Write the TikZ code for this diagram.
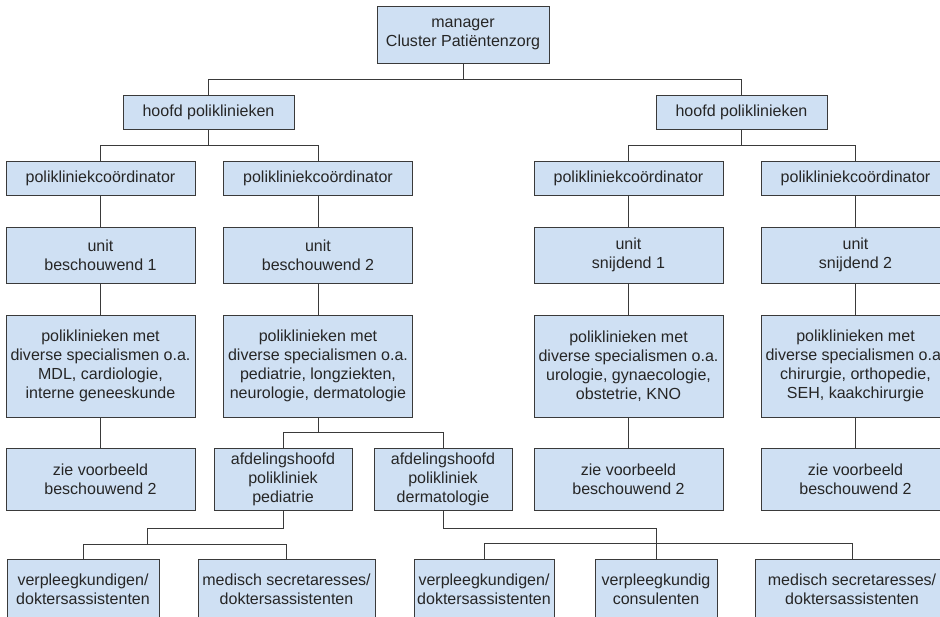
\documentclass[tikz,border=0pt]{standalone}
\usepackage{fontspec}
\setmainfont{Liberation Sans}
\definecolor{boxblue}{RGB}{207,224,243}
\definecolor{linegray}{RGB}{58,58,58}
\definecolor{textgray}{RGB}{38,38,38}

\begin{document}
\begin{tikzpicture}[
    box/.style={draw=linegray, fill=boxblue, line width=0.7pt, inner sep=0pt, align=center,
        text=textgray, font=\fontsize{11.4}{13.5}\selectfont, minimum height=0.85cm},
    colbox/.style={box, minimum width=4.725cm},
    link/.style={draw=linegray, line width=0.7pt}
]
    \clip (0,0) rectangle (23.5,-15.4);
    \node[box, minimum width=4.3cm, minimum height=1.425cm] (mgr) at (11.575,-0.8625) {manager\\Cluster Patiëntenzorg};
    \node[box, minimum width=4.275cm] (hfdL) at (5.2125,-2.8) {hoofd poliklinieken};
    \node[box, minimum width=4.275cm] (hfdR) at (18.5375,-2.8) {hoofd poliklinieken};
    %% coordinatoren
    \node[colbox] (crdA) at (2.5125,-4.45) {polikliniekcoördinator};
    \node[colbox] (crdB) at (7.95,-4.45) {polikliniekcoördinator};
    \node[colbox] (crdC) at (15.7125,-4.45) {polikliniekcoördinator};
    \node[colbox] (crdD) at (21.3875,-4.45) {polikliniekcoördinator};
    %% units
    \node[colbox, minimum height=1.4cm] (untA) at (2.5125,-6.375) {unit\\beschouwend 1};
    \node[colbox, minimum height=1.4cm] (untB) at (7.95,-6.375) {unit\\beschouwend 2};
    \node[colbox, minimum height=1.4cm] (untC) at (15.7125,-6.375) {unit\\snijdend 1};
    \node[colbox, minimum height=1.4cm] (untD) at (21.3875,-6.375) {unit\\snijdend 2};
    \node[colbox, minimum height=2.55cm] (polA) at (2.5125,-9.15) {poliklinieken met\\diverse specialismen o.a.\\MDL, cardiologie,\\interne geneeskunde};
    \node[colbox, minimum height=2.55cm] (polB) at (7.95,-9.15) {poliklinieken met\\diverse specialismen o.a.\\pediatrie, longziekten,\\neurologie, dermatologie};
    \node[colbox, minimum height=2.55cm] (polC) at (15.7125,-9.15) {poliklinieken met\\diverse specialismen o.a.\\urologie, gynaecologie,\\obstetrie, KNO};
    \node[colbox, minimum height=2.55cm] (polD) at (21.3875,-9.15) {poliklinieken met\\diverse specialismen o.a.\\chirurgie, orthopedie,\\SEH, kaakchirurgie};
    \node[colbox, minimum height=1.55cm] (zieA) at (2.5125,-11.975) {zie voorbeeld\\beschouwend 2};
    \node[colbox, minimum height=1.55cm] (zieC) at (15.7125,-11.975) {zie voorbeeld\\beschouwend 2};
    \node[colbox, minimum height=1.55cm] (zieD) at (21.3875,-11.975) {zie voorbeeld\\beschouwend 2};
    \node[box, minimum width=3.45cm, minimum height=1.55cm] (afdP) at (7.075,-11.975) {afdelingshoofd\\polikliniek\\pediatrie};
    \node[box, minimum width=3.45cm, minimum height=1.55cm] (afdD) at (11.075,-11.975) {afdelingshoofd\\polikliniek\\dermatologie};
    %% medewerkers
    \node[box, minimum width=3.8cm, minimum height=1.5cm] (vpkA) at (2.075,-14.725) {verpleegkundigen/\\doktersassistenten};
    \node[box, minimum width=4.425cm, minimum height=1.5cm] (secA) at (7.1625,-14.725) {medisch secretaresses/\\doktersassistenten};
    \node[box, minimum width=3.5cm, minimum height=1.5cm] (vpkB) at (12.1,-14.725) {verpleegkundigen/\\doktersassistenten};
    \node[box, minimum width=3.05cm, minimum height=1.5cm] (vkcB) at (16.4,-14.725) {verpleegkundig\\consulenten};
    \node[box, minimum width=4.85cm, minimum height=1.5cm] (secB) at (21.3,-14.725) {medisch secretaresses/\\doktersassistenten};
    \coordinate (pedbus) at (3.675,-13.6);

    \draw[link] (mgr.south) -- ++(0,-0.4) -| (hfdL.north);
    \draw[link] (mgr.south) -- ++(0,-0.4) -| (hfdR.north);
    \draw[link] (hfdL.south) -- ++(0,-0.4) -| (crdA.north);
    \draw[link] (hfdL.south) -- ++(0,-0.4) -| (crdB.north);
    \draw[link] (hfdR.south) -- ++(0,-0.4) -| (crdC.north);
    \draw[link] (hfdR.south) -- ++(0,-0.4) -| (crdD.north);
    \draw[link] (crdA) -- (untA) -- (polA) -- (zieA);
    \draw[link] (crdB) -- (untB) -- (polB);
    \draw[link] (crdC) -- (untC) -- (polC) -- (zieC);
    \draw[link] (crdD) -- (untD) -- (polD) -- (zieD);
    \draw[link] (polB.south) -- ++(0,-0.375) -| (afdP.north);
    \draw[link] (polB.south) -- ++(0,-0.375) -| (afdD.north);
    \draw[link] (afdP.south) -- ++(0,-0.45) -| (pedbus);
    \draw[link] (vpkA.north) |- (pedbus) -| (secA.north);
    \draw[link] (afdD.south) -- ++(0,-0.45) -| (vkcB.north);
    \draw[link] (vpkB.north) -- ++(0,0.375) -| (secB.north);
\end{tikzpicture}
\end{document}
